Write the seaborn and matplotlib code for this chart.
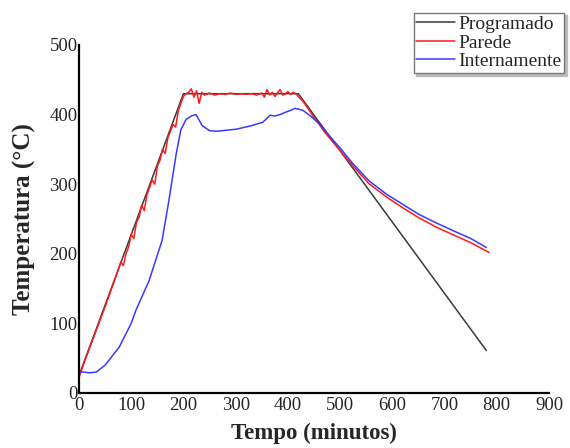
import matplotlib
matplotlib.use("Agg")
import matplotlib.pyplot as plt
from matplotlib.lines import Line2D
import seaborn as sns
import pandas as pd

# programado (setpoint)
t_prog = [0, 200, 420, 780]
T_prog = [25, 430, 430, 61]

# parede (wall)
t_par = [0, 10, 20, 30, 40, 50, 60, 70, 80, 85, 90, 95, 100, 105, 110, 115, 120, 125,
         130, 135, 140, 145, 150, 155, 160, 165, 170, 175, 180, 185, 190, 195, 200,
         205, 210, 215, 220, 225, 230, 235, 240, 250, 260, 270, 280, 290, 300, 310,
         320, 330, 340, 350, 355, 360, 365, 370, 375, 380, 385, 390, 395, 400, 405,
         410, 415, 420, 430, 440, 450, 460, 470, 480, 490, 500, 525, 555, 590, 620,
         650, 685, 720, 750, 785]
T_par = [22, 44, 64, 84, 104, 124, 145, 166, 188, 183, 200, 210, 228, 222, 245, 252,
         270, 262, 285, 295, 306, 300, 326, 334, 350, 344, 366, 376, 386, 382, 405, 416,
         426, 430, 432, 437, 425, 434, 416, 432, 428, 431, 428, 430, 429, 431, 429, 430,
         429, 430, 428, 431, 425, 436, 428, 432, 426, 431, 436, 428, 430, 433, 429, 432,
         430, 426, 418, 407, 396, 386, 375, 366, 357, 348, 326, 301, 281, 266, 252, 238,
         226, 216, 202]

# internamente (inside)
t_int = [0, 10, 20, 33, 50, 77, 100, 109, 134, 159, 172, 186, 195, 205, 215, 224, 236,
         250, 263, 301, 330, 352, 366, 375, 385, 394, 405, 414, 429, 445, 461, 480, 500,
         525, 555, 590, 620, 650, 685, 720, 750, 780]
T_int = [30, 30, 29, 30, 40, 66, 100, 119, 161, 219, 276, 343, 378, 393, 398, 400, 384,
         377, 376, 379, 384, 389, 399, 398, 400, 403, 406, 409, 406, 397, 386, 369, 352,
         329, 305, 285, 271, 257, 244, 232, 222, 209]

df = pd.concat([
    pd.DataFrame({"t": t_prog, "T": T_prog, "serie": "Programado"}),
    pd.DataFrame({"t": t_par, "T": T_par, "serie": "Parede"}),
    pd.DataFrame({"t": t_int, "T": T_int, "serie": "Internamente"}),
])
cores = {"Programado": "#3a3a3a", "Parede": "#ff1a1a", "Internamente": "#3a3aff"}

sns.set_style("white")
plt.rcParams["font.family"] = ["Liberation Serif", "DejaVu Serif"]

fig = plt.figure(figsize=(5.7, 4.48), dpi=100)
ax = fig.add_axes([0.1386, 0.1228, 0.8246, 0.7768])

sns.lineplot(data=df, x="t", y="T", hue="serie", sort=False, estimator=None,
             palette=cores, linewidth=1.1, ax=ax, legend=False)

ax.set_xlim(0, 900)
ax.set_ylim(0, 500)
ax.set_xticks(range(0, 901, 100))
ax.set_yticks(range(0, 501, 100))
ax.tick_params(length=0, labelsize=13.5, pad=1)
ax.tick_params(axis="x", pad=3)
for s in ["top", "right"]:
    ax.spines[s].set_visible(False)
for s in ["left", "bottom"]:
    ax.spines[s].set_color("black")
    ax.spines[s].set_linewidth(1.6)

ax.set_xlabel("Tempo (minutos)", fontsize=16.5, fontweight="bold", labelpad=6)
ax.set_ylabel("Temperatura (°C)", fontsize=18, fontweight="bold", labelpad=10)

handles = [Line2D([], [], color=cores[k], lw=1.1) for k in ["Programado", "Parede", "Internamente"]]
leg = fig.legend(handles, ["Programado", "Parede", "Internamente"],
                 loc="upper right", bbox_to_anchor=(0.99, 0.972), fontsize=14,
                 frameon=True, fancybox=False, shadow={"color": "#bbbbbb", "alpha": 1},
                 handlelength=2.0, handletextpad=0.15, labelspacing=0.05,
                 borderpad=0.15, borderaxespad=0)
leg.get_frame().set_edgecolor("#777777")
leg.get_frame().set_linewidth(1.0)

fig.savefig("out.png", dpi=100)
